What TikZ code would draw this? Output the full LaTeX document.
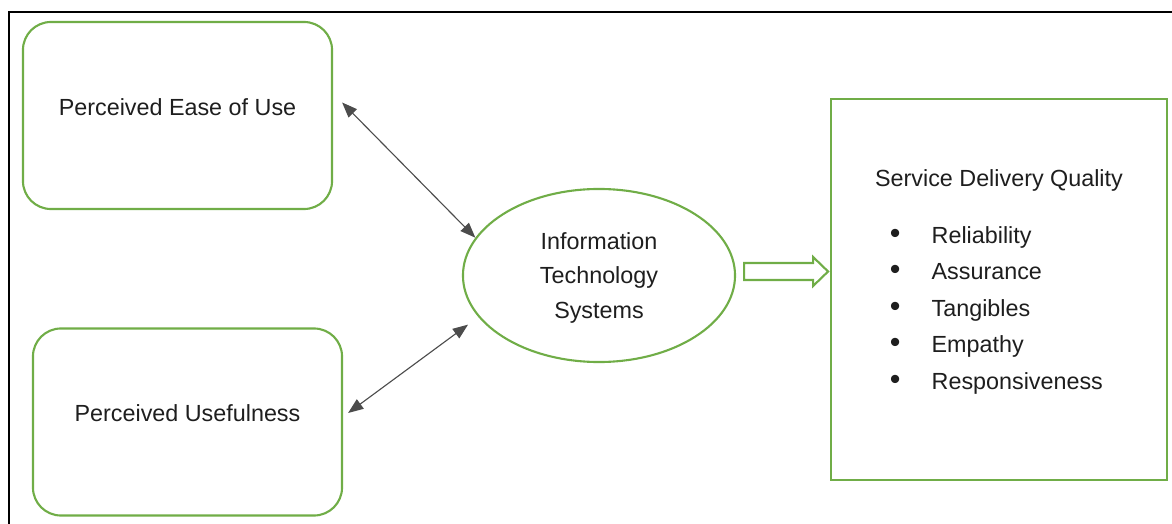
\documentclass[tikz,border=0pt]{standalone}
\usepackage{fontspec}
\setmainfont{Liberation Sans}
\usetikzlibrary{arrows.meta, positioning, shapes.geometric, calc}
\definecolor{leaf}{HTML}{70AD47}
\definecolor{ink}{HTML}{1E1E1E}

\begin{document}
\begin{tikzpicture}[
  x=0.025cm, y=-0.025cm,
  font=\fontsize{16.6pt}{24.8pt}\selectfont, text=ink,
  card/.style ={
    draw=leaf, line width=1.5pt, rounded corners=7mm,
    minimum width=77.25mm, minimum height=46.75mm,
    text height=4mm, text depth=4mm
  },
  hub/.style  ={ellipse, draw=leaf, line width=1.5pt, inner sep=0pt,
                minimum width=68mm, minimum height=43.25mm, align=center,
                text depth=0pt},
  panel/.style={draw=leaf, line width=2pt, minimum width=84mm, minimum height=95.25mm},
  link/.style ={{Triangle[length=3.8mm,width=2.9mm]}-{Triangle[length=3.8mm,width=2.9mm]},
                draw=black!70, line width=0.8pt},
  fat/.style  ={draw=leaf, line width=1.5pt, line join=miter},
  items/.style={font=\fontsize{16.6pt}{25.9pt}\selectfont, inner sep=0pt}
]
\useasboundingbox (0,0) rectangle (1172,524);

% open frame: only top and left edges are drawn
\draw[black, line width=1.1pt] (9,524) -- (9,12) -- (1172,12);

\node[card] (peou) at (177.5,115.5) {Perceived Ease of Use};
\node[card] (pu)   at (187.5,422)   {Perceived Usefulness};
\node[hub]  (its)  at (599,275.5)   {Information\\Technology\\Systems};
\node[panel] (sdq) at (999,289.5)   {};

\node (title) at ($(sdq.north)+(0,83)$) {Service Delivery Quality};
\node[items, anchor=base west] (dims) at ($(sdq.north west)+(60,146)$)
  {\begin{tabular}[t]{@{}l@{\hspace{0.78cm}}l@{}}
     \scalebox{1.3}{•} & Reliability\\
     \scalebox{1.3}{•} & Assurance\\
     \scalebox{1.3}{•} & Tangibles\\
     \scalebox{1.3}{•} & Empathy\\
     \scalebox{1.3}{•} & Responsiveness
   \end{tabular}};

\draw[link] ($(peou.east)+(9,-13)$) -- (its.163);
\draw[link, shorten >=3.2mm] ($(pu.east)+(5,-9)$) -- (its.199);

% hollow block arrow from the systems to the outcome
\draw[fat] ($(its.east)+(8,-12.5)$) -- ++(69,0) -- ++(0,-6) -- ++(15,14.5)
  -- ++(-15,14.5) -- ++(0,-6) -- ++(-69,0) -- cycle;

\end{tikzpicture}
\end{document}
